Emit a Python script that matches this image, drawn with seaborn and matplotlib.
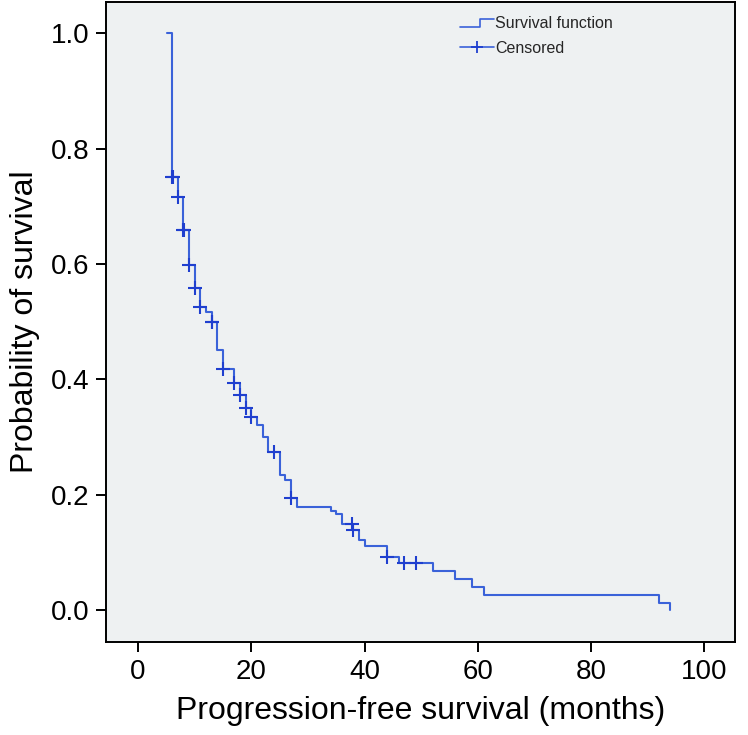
import pandas as pd
import matplotlib
matplotlib.use('Agg')
import matplotlib.pyplot as plt
import seaborn as sns
from matplotlib.lines import Line2D
from matplotlib.legend_handler import HandlerBase

# ── Kaplan-Meier curve ───────────────────────────────
step_times = [5.2, 6, 7, 8, 9, 10, 11, 12, 13, 14, 15, 17, 18, 19, 20, 21, 22, 23,
              25, 26, 27, 28, 34, 35, 36, 38, 39, 40, 44, 46, 52, 56, 59, 61, 92, 94]
step_surv = [1.0, 0.751, 0.716, 0.658, 0.598, 0.558, 0.526, 0.517, 0.500, 0.451,
             0.417, 0.393, 0.373, 0.351, 0.334, 0.321, 0.300, 0.274, 0.234, 0.225,
             0.195, 0.179, 0.172, 0.166, 0.149, 0.139, 0.121, 0.111, 0.092, 0.081,
             0.068, 0.054, 0.040, 0.026, 0.012, 0.0]

censor_times = [6, 6.2, 7, 8, 8.1, 9, 10, 11, 13, 13.1, 15, 17, 18, 19, 20, 24, 27,
                37.7, 38, 44, 47, 49]

line_col = '#3a62d9'
mark_col = '#1f3fcf'

curve = pd.DataFrame({'time': step_times, 'surv': step_surv})


def surv_at(t):
    # level of the step curve at time t (after any drop at t)
    s = step_surv[0]
    for tt, ss in zip(step_times, step_surv):
        if tt <= t:
            s = ss
    return s


censored = pd.DataFrame({'time': censor_times,
                         'surv': [surv_at(t) for t in censor_times]})

sns.set_theme(style='ticks')
plt.rcParams['font.family'] = ['Liberation Sans', 'DejaVu Sans']

fig = plt.figure(figsize=(7.48, 7.35), dpi=100)
ax = fig.add_axes([0.1417, 0.1265, 0.8409, 0.8708])
ax.set_facecolor('#eef1f2')

sns.lineplot(data=curve, x='time', y='surv', drawstyle='steps-post',
             estimator=None, sort=False, color=line_col, linewidth=1.5, ax=ax)
sns.scatterplot(data=censored, x='time', y='surv', marker='+', s=90,
                color=mark_col, linewidth=1.5, ax=ax, zorder=3)

ax.set_xlim(-5.65, 105.4)
ax.set_ylim(-0.0555, 1.054)
ax.set_xticks([0, 20, 40, 60, 80, 100])
ax.set_yticks([0.0, 0.2, 0.4, 0.6, 0.8, 1.0])
ax.set_yticklabels(['0.0', '0.2', '0.4', '0.6', '0.8', '1.0'])
ax.tick_params(axis='both', labelsize=20, length=7, width=1.4, color='black',
               labelcolor='black', direction='out', pad=5)
for sp in ax.spines.values():
    sp.set_visible(True)
    sp.set_color('black')
    sp.set_linewidth(1.4)

ax.set_xlabel('Progression-free survival (months)', fontsize=23, color='black',
              labelpad=8)
ax.set_ylabel('Probability of survival', fontsize=23, color='black', labelpad=8)


class StepHandler(HandlerBase):
    def create_artists(self, legend, orig_handle, xdescent, ydescent,
                       width, height, fontsize, trans):
        x0, x1 = -xdescent, -xdescent + width
        mid = x0 + width * 0.6
        lo, hi = -ydescent + height * 0.1, -ydescent + height * 0.8
        ln = Line2D([x0, mid, mid, x1], [lo, lo, hi, hi], color=line_col,
                    linewidth=1.2, transform=trans)
        return [ln]


step_handle = Line2D([], [], color=line_col)
cens_handle = Line2D([], [], color=line_col, linewidth=1.2, marker='+',
                     markersize=8, markeredgecolor=mark_col, markeredgewidth=1.3)
ax.legend([step_handle, cens_handle], ['Survival function', 'Censored'],
          handler_map={step_handle: StepHandler()},
          loc='upper left', bbox_to_anchor=(0.545, 0.995), frameon=False,
          fontsize=11.5, handlelength=2.1, handletextpad=0.1, labelspacing=0.6,
          borderaxespad=0.3)

fig.savefig('out.png', dpi=100)
